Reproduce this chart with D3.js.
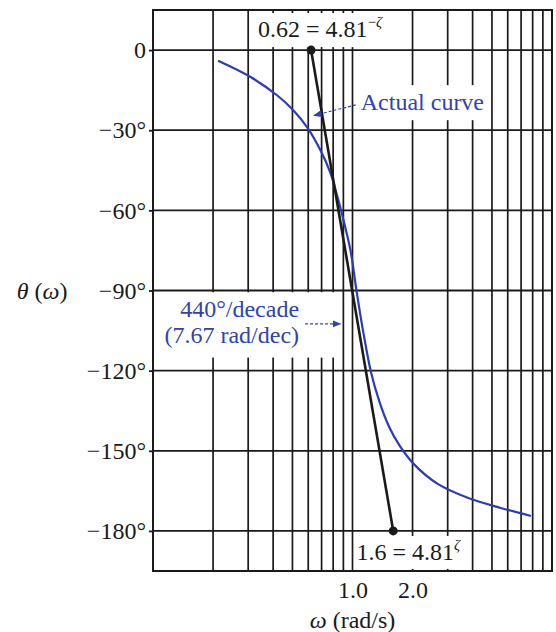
<!DOCTYPE html>
<html><head><meta charset="utf-8">
<script src="https://cdn.jsdelivr.net/npm/d3@7"></script>
<style>
html,body{margin:0;padding:0;background:#fff;}
svg{display:block;}
text{font-family:"Liberation Serif","DejaVu Serif",serif;}
</style></head>
<body>
<script>
// ---- data ----
const phaseTicks = [0, -30, -60, -90, -120, -150, -180];
const phaseLabels = ["0", "\u221230\u00b0", "\u221260\u00b0", "\u221290\u00b0", "\u2212120\u00b0", "\u2212150\u00b0", "\u2212180\u00b0"];
const gridOmega = [0.2,0.3,0.4,0.5,0.6,0.7,0.8,0.9,1,2,3,4,5,6,7,8,9];
const xTickValues = [1, 2];
const xTickLabels = ["1.0", "2.0"];
// actual phase curve
const actualOmega = [0.212,0.307,0.420,0.505,0.594,0.691,0.775,0.841,0.876,0.977,1.047,1.129,1.239,1.359,1.517,1.723,2.025,2.674,3.78,5.54,7.84];
const actualPhase = [-4,-10,-17,-22.5,-29,-37.5,-46,-55,-60,-75,-90,-105,-120.7,-131.2,-140.6,-148.1,-154.9,-162.4,-167.6,-171.4,-174.4];
// straight-line approximation
const approxOmega = [0.62, 1.6];
const approxPhase = [0, -180];

const W = 556, H = 632;
const svg = d3.select("body").append("svg").attr("width", W).attr("height", H);
const x = d3.scaleLog().domain([0.1, 10]).range([153, 552]);
const y = d3.scaleLinear().domain([15, -195]).range([10, 571]);
const blue = "#2f44ad", ink = "#1a1a1a";

// defs: arrowheads
const defs = svg.append("defs");
defs.append("marker").attr("id","arr").attr("viewBox","0 0 10 10").attr("refX",9).attr("refY",5)
  .attr("markerWidth",7).attr("markerHeight",7).attr("orient","auto-start-reverse")
  .append("path").attr("d","M0,1 L10,5 L0,9 Z").attr("fill",blue);

// grid
const g = svg.append("g");
g.selectAll("line.v").data(gridOmega).join("line").attr("class","v")
  .attr("x1",d=>x(d)).attr("x2",d=>x(d)).attr("y1",y(15)).attr("y2",y(-195))
  .attr("stroke",ink).attr("stroke-width",1.7);
g.selectAll("line.h").data(phaseTicks).join("line").attr("class","h")
  .attr("x1",x(0.1)).attr("x2",x(10)).attr("y1",d=>y(d)).attr("y2",d=>y(d))
  .attr("stroke",ink).attr("stroke-width",1.8);

// annotation layer with white boxes (drawn before curves)
const ann = svg.append("g");
function boxedText(parent, lines, pad) {
  const gg = parent.append("g");
  const r = gg.append("rect").attr("fill","#fff");
  const t = gg.append("g");
  lines(t);
  const bb = t.node().getBBox();
  r.attr("x", bb.x - pad[3]).attr("y", bb.y - pad[0])
   .attr("width", bb.width + pad[1] + pad[3]).attr("height", bb.height + pad[0] + pad[2]);
  return gg;
}

// top label 0.62 = 4.81^-ζ
boxedText(ann, t => {
  const tx = t.append("text").attr("x", x(approxOmega[0]) - 53).attr("y", y(approxPhase[0]) - 13)
    .attr("font-size", 24).attr("fill", ink);
  tx.append("tspan").text("0.62 = 4.81");
  tx.append("tspan").attr("dy", -10).attr("font-size", 15).text("\u2212");
  tx.append("tspan").attr("font-size", 15).attr("font-style","italic").text("\u03b6");
}, [1,6,5,8]);

// bottom label 1.6 = 4.81^ζ
boxedText(ann, t => {
  const tx = t.append("text").attr("x", x(1) + 4).attr("y", y(approxPhase[1]) + 29)
    .attr("font-size", 24).attr("fill", ink);
  tx.append("tspan").text("1.6 = 4.81");
  tx.append("tspan").attr("dy", -10).attr("font-size", 15).attr("font-style","italic").text("\u03b6");
}, [1,4,4,2]);

// "Actual curve"
boxedText(ann, t => {
  t.append("text").attr("x", x(1.1)).attr("y", y(-22.5)).attr("font-size", 24).attr("fill", blue)
    .text("Actual curve");
}, [4,5,5,6]);

// 440°/decade
boxedText(ann, t => {
  t.append("text").attr("x", x(0.62) - 12).attr("y", y(-100)).attr("text-anchor","end")
    .attr("font-size", 24).attr("fill", blue).text("440\u00b0/decade");
  t.append("text").attr("x", x(0.62) - 12).attr("y", y(-109.5)).attr("text-anchor","end")
    .attr("font-size", 24).attr("fill", blue).text("(7.67 rad/dec)");
}, [4,40,10,3]);

// border
svg.append("rect").attr("x", x(0.1)).attr("y", y(15)).attr("width", x(10)-x(0.1)).attr("height", y(-195)-y(15))
  .attr("fill","none").attr("stroke",ink).attr("stroke-width",2);

// actual curve
const line = d3.line().x(d=>x(d[0])).y(d=>y(d[1])).curve(d3.curveCatmullRom.alpha(0.5));
svg.append("path").datum(actualOmega.map((w,i)=>[w, actualPhase[i]]))
  .attr("d", line).attr("fill","none").attr("stroke", "#2a3cb8").attr("stroke-width", 2.2);

// straight-line approx
const apx = approxOmega.map((w,i)=>[w, approxPhase[i]]);
svg.append("path").datum(apx).attr("d", d3.line().x(d=>x(d[0])).y(d=>y(d[1])))
  .attr("fill","none").attr("stroke", ink).attr("stroke-width", 2.6);
svg.selectAll("circle.pt").data(apx).join("circle").attr("class","pt")
  .attr("cx", d=>x(d[0])).attr("cy", d=>y(d[1])).attr("r", 4.5).attr("fill", ink);

// leader arrows
svg.append("line").attr("x1", x(1.1) - 5).attr("y1", y(-20.5)).attr("x2", x(0.64)).attr("y2", y(-24.5))
  .attr("stroke", blue).attr("stroke-width", 1.2).attr("stroke-dasharray","3,2").attr("marker-end","url(#arr)");
svg.append("line").attr("x1", x(0.62) - 6).attr("y1", y(-102.5)).attr("x2", x(0.87)).attr("y2", y(-102.5))
  .attr("stroke", blue).attr("stroke-width", 1.2).attr("stroke-dasharray","3,2").attr("marker-end","url(#arr)");

// y axis
const yAxis = svg.append("g").attr("transform", `translate(${x(0.1)},0)`)
  .call(d3.axisLeft(y).tickValues(phaseTicks).tickFormat((d,i)=>phaseLabels[i]).tickSize(4).tickPadding(3));
yAxis.select(".domain").remove();
yAxis.selectAll("line").attr("stroke", ink).attr("stroke-width", 1.8);
yAxis.selectAll("text").attr("font-size", 24).attr("fill", ink).attr("font-family", '"Liberation Serif",serif');

// x axis labels
const xAxis = svg.append("g").attr("transform", `translate(0,${y(-195)})`)
  .call(d3.axisBottom(x).tickValues(xTickValues).tickFormat((d,i)=>xTickLabels[i]).tickSize(0).tickPadding(10));
xAxis.select(".domain").remove();
xAxis.selectAll("text").attr("font-size", 24).attr("fill", ink).attr("font-family", '"Liberation Serif",serif');

// axis titles
const xt = svg.append("text").attr("x", x(1)).attr("y", 628).attr("text-anchor","middle").attr("font-size", 24).attr("fill", ink);
xt.append("tspan").attr("font-style","italic").text("\u03c9");
xt.append("tspan").text(" (rad/s)");
const yt = svg.append("text").attr("x", 42).attr("y", y(-90) + 8).attr("text-anchor","middle").attr("font-size", 24).attr("fill", ink);
yt.append("tspan").attr("font-style","italic").text("\u03b8");
yt.append("tspan").text(" (");
yt.append("tspan").attr("font-style","italic").text("\u03c9");
yt.append("tspan").text(")");
</script>
</body></html>
